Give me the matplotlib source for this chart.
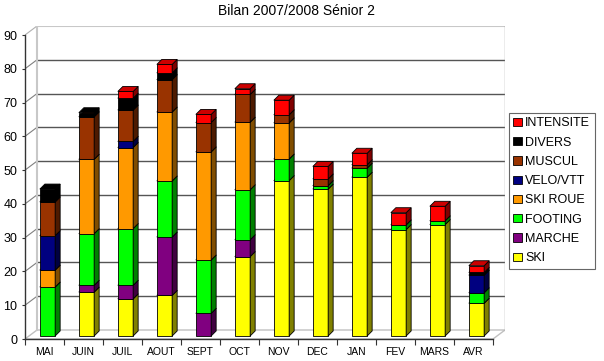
import numpy as np
import matplotlib
matplotlib.use('Agg')
import matplotlib.pyplot as plt
from matplotlib.patches import Polygon, Patch
from matplotlib.colors import to_rgb

plt.rcParams['font.family'] = ['Liberation Sans', 'DejaVu Sans']

# données
months = ['MAI', 'JUIN', 'JUIL', 'AOUT', 'SEPT', 'OCT', 'NOV', 'DEC', 'JAN', 'FEV', 'MARS', 'AVR']
ski       = [0, 13, 11, 12, 0, 23.5, 46, 43.5, 47, 31.5, 33, 9.7]
marche    = [0, 2, 4, 17.3, 6.7, 5, 0, 0, 0, 0, 0, 0]
footing   = [14.5, 15.3, 16.8, 16.6, 15.8, 14.8, 6.4, 1, 2.7, 1.4, 1.1, 3.1]
ski_roue  = [5, 22, 24, 20.4, 32, 20, 10.7, 0, 0, 0, 0, 0]
velo      = [10.2, 0, 1.8, 0, 0, 0, 0, 0, 0, 0, 0, 5.2]
muscul    = [10, 12.6, 9.3, 9.6, 8.7, 8.2, 2.4, 2, 1, 0, 0, 0]
divers    = [3.8, 1.2, 3.5, 2, 0, 0, 0, 0, 0, 0, 0, 0.8]
intensite = [0, 0, 2, 2.5, 2.4, 1.7, 4.3, 3.7, 3.4, 3.6, 4.3, 2]

series = [ski, marche, footing, ski_roue, velo, muscul, divers, intensite]
labels = ['SKI', 'MARCHE', 'FOOTING', 'SKI ROUE', 'VELO/VTT', 'MUSCUL', 'DIVERS', 'INTENSITE']
colors = ['#FFFF00', '#800080', '#00FF00', '#FF9900', '#000080', '#993300', '#000000', '#FF0000']

# pseudo 3D (unités de données)
px_x = 39.0
px_y = 304 / 90.0
wall_dx, wall_dy = 12 / px_x, 9 / px_y
bar_dx, bar_dy = 3 / px_x, 3 / px_y
side_dx, side_dy = 5 / px_x, 5 / px_y
width = 15.3 / px_x
n = len(months)
x = np.arange(n)

fig = plt.figure(figsize=(6.04, 3.61), dpi=100)
ax = fig.add_axes([25 / 604, 22 / 361, 480 / 604, 313 / 361])
ax.set_xlim(-0.5, n - 0.5 + wall_dx)
ax.set_ylim(0, 90 + wall_dy)

# murs
x0, x1 = -0.5, n - 0.5
ax.add_patch(Polygon([(x0, 0), (x0 + wall_dx, wall_dy), (x1 + wall_dx, wall_dy), (x1, 0)],
                     closed=True, fc='white', ec='#c0c0c0', lw=1, zorder=1))
for v in range(10, 90, 10):
    ax.plot([x0 + wall_dx, x1 + wall_dx], [v + wall_dy, v + wall_dy], color='#555555', lw=1, zorder=1)
    ax.plot([x0, x0 + wall_dx], [v, v + wall_dy], color='#808080', lw=0.8, zorder=1)
ax.plot([x0, x0 + wall_dx], [90, 90 + wall_dy], color='#b0b0b0', lw=0.8, zorder=1)
ax.plot([x0 + wall_dx, x1 + wall_dx], [90 + wall_dy, 90 + wall_dy], color='#c8c8c8', lw=1.5, zorder=1)
ax.plot([x0 + wall_dx, x0 + wall_dx], [wall_dy, 90 + wall_dy], color='#c8c8c8', lw=1.5, zorder=1)
ax.plot([x1 + wall_dx, x1 + wall_dx], [wall_dy, 90 + wall_dy], color='#a0a0a0', lw=1, zorder=1)


def shade(c, f):
    r, g, b = to_rgb(c)
    return (r * f, g * f, b * f)


# barres empilées
bottoms = np.zeros(n)
for vals, col in zip(series, colors):
    vals = np.array(vals, dtype=float)
    mask = vals > 0
    lefts = x - width / 2 + bar_dx
    ax.bar(x[mask] + bar_dx, vals[mask], width=width, bottom=bottoms[mask] + bar_dy,
           color=col, edgecolor='black', linewidth=0.6, zorder=3)
    for i in np.where(mask)[0]:
        l = lefts[i]
        r = l + width
        b = bottoms[i] + bar_dy
        t = b + vals[i]
        ax.add_patch(Polygon([(r, b), (r + side_dx, b + side_dy), (r + side_dx, t + side_dy), (r, t)],
                             closed=True, fc=shade(col, 0.5), ec='black', lw=0.6, zorder=3))
        ax.add_patch(Polygon([(l, t), (r, t), (r + side_dx, t + side_dy), (l + side_dx, t + side_dy)],
                             closed=True, fc=shade(col, 0.8), ec='black', lw=0.6, zorder=3))
    bottoms = bottoms + vals

# axes
for s in ['top', 'right']:
    ax.spines[s].set_visible(False)
ax.spines['left'].set_bounds(0, 90)
ax.spines['bottom'].set_bounds(x0, x1)
for s in ['left', 'bottom']:
    ax.spines[s].set_color('#333333')
    ax.spines[s].set_linewidth(1)
    ax.spines[s].set_zorder(4)
ax.set_yticks(range(0, 91, 10))
ax.tick_params(axis='y', length=2.5, width=0.8, pad=3, labelsize=9, color='#333333')
ax.set_xticks(np.arange(-0.5, n, 1.0))
ax.set_xticklabels([])
ax.set_xticks(x, minor=True)
ax.set_xticklabels(months, minor=True)
ax.tick_params(axis='x', which='major', length=4, width=0.8, color='#333333')
ax.tick_params(axis='x', which='minor', length=0, pad=6, labelsize=7.5)

fig.text(297 / 604, 1 - 11 / 361, 'Bilan 2007/2008 Sénior 2', ha='center', va='center', fontsize=10)

handles = [Patch(facecolor=c, edgecolor='black', linewidth=0.6) for c in colors][::-1]
leg = fig.legend(handles, labels[::-1], loc='upper left', bbox_to_anchor=(509 / 604, 1 - 113 / 361),
                 fontsize=9, frameon=True, fancybox=False, borderpad=0.35, labelspacing=0.58,
                 handlelength=0.65, handleheight=0.65, handletextpad=0.3, borderaxespad=0)
leg.get_frame().set_edgecolor('#404040')
leg.get_frame().set_linewidth(0.8)

fig.savefig('out.png', dpi=100)
